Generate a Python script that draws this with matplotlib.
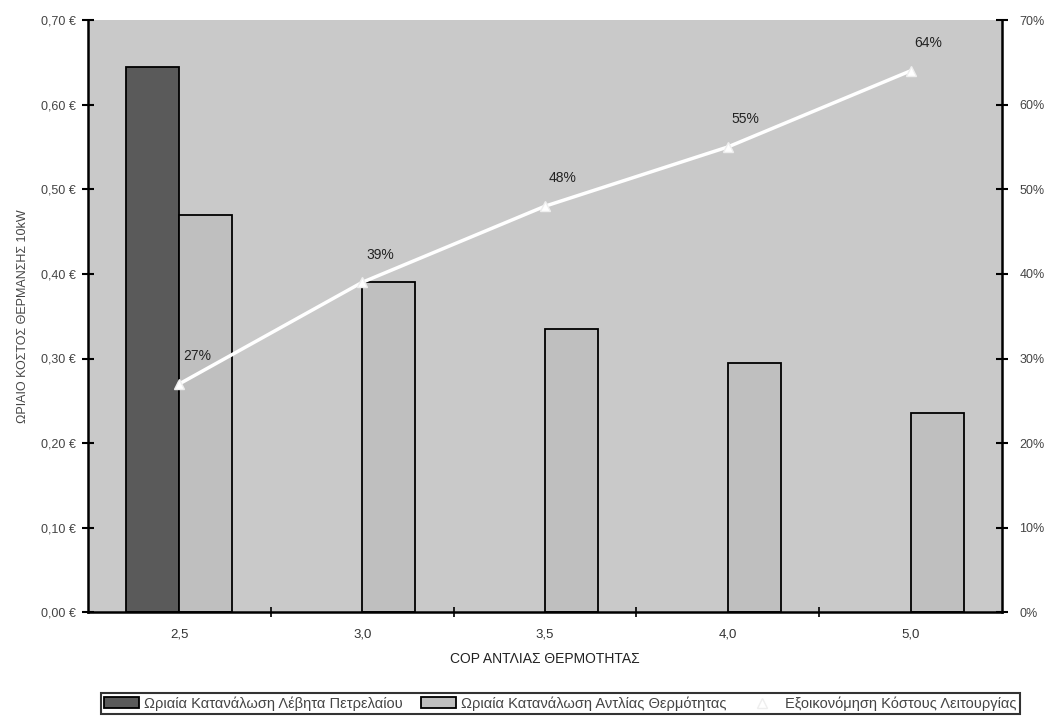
import numpy as np
import matplotlib
matplotlib.use("Agg")
import matplotlib.pyplot as plt
from matplotlib.ticker import FuncFormatter, FixedLocator, NullFormatter

plt.rcParams['font.family'] = ['Liberation Sans Narrow', 'Liberation Sans', 'DejaVu Sans']

# data
cop = ["2,5", "3,0", "3,5", "4,0", "5,0"]
boiler_cost = [0.645, np.nan, np.nan, np.nan, np.nan]   # ωριαία κατανάλωση λέβητα
heatpump_cost = [0.47, 0.39, 0.335, 0.295, 0.235]       # ωριαία κατανάλωση αντλίας
savings = [27, 39, 48, 55, 64]                           # εξοικονόμηση %

fig = plt.figure(figsize=(10.47, 7.17), dpi=100)
fig.subplots_adjust(left=0.084, right=0.957, top=0.972, bottom=0.146)
ax = fig.add_subplot(111)
ax.set_facecolor('#c9c9c9')

x = np.arange(len(cop))
w = 0.29
ax.bar(x - w / 2, boiler_cost, w, color='#5a5a5a', edgecolor='black', linewidth=1.3,
       label='Ωριαία Κατανάλωση Λέβητα Πετρελαίου', zorder=2)
ax.bar(x + w / 2, heatpump_cost, w, color='#bfbfbf', edgecolor='black', linewidth=1.3,
       label='Ωριαία Κατανάλωση Αντλίας Θερμότητας', zorder=2)

ax.set_xlim(-0.5, len(cop) - 0.5)
ax.set_ylim(0, 0.70)
ax.set_yticks(np.arange(0, 0.701, 0.1))
ax.yaxis.set_major_formatter(FuncFormatter(lambda v, p: f"{v:.2f}".replace('.', ',') + " €"))

# category axis: ticks between categories, labels at centres
ax.xaxis.set_major_locator(FixedLocator(x[:-1] + 0.5))
ax.xaxis.set_major_formatter(NullFormatter())
ax.xaxis.set_minor_locator(FixedLocator(x))
ax.xaxis.set_minor_formatter(FuncFormatter(lambda v, p: cop[int(round(v))]))
ax.tick_params(axis='x', which='major', direction='inout', length=7, width=1.2)
ax.tick_params(axis='x', which='minor', length=0, pad=12, labelsize=9.5, labelcolor='#333333')
ax.tick_params(axis='y', direction='inout', length=9, width=1.5, pad=4,
               labelsize=9, labelcolor='#444444')

ax.set_xlabel('COP ΑΝΤΛΙΑΣ ΘΕΡΜΟΤΗΤΑΣ', fontsize=10, color='#222222', labelpad=8)
ax.set_ylabel('ΩΡΙΑΙΟ ΚΟΣΤΟΣ ΘΕΡΜΑΝΣΗΣ 10kW', fontsize=9, color='#444444', labelpad=9)

for s in ax.spines.values():
    s.set_linewidth(1.8)
ax.spines['top'].set_visible(False)
ax.spines['right'].set_visible(False)

ax2 = ax.twinx()
line, = ax2.plot(x, savings, color='white', linewidth=2.5, marker='^', markersize=7,
                 markeredgecolor='#eeeeee', label='Εξοικονόμηση Κόστους Λειτουργίας', zorder=3)
ax2.set_ylim(0, 70)
ax2.set_yticks(np.arange(0, 71, 10))
ax2.yaxis.set_major_formatter(FuncFormatter(lambda v, p: f"{v:.0f}%"))
ax2.tick_params(axis='y', direction='inout', length=9, width=1.5, pad=8,
                labelsize=9, labelcolor='#444444')
ax2.spines['right'].set_linewidth(1.8)
ax2.spines['top'].set_visible(False)
ax2.spines['left'].set_visible(False)
ax2.spines['bottom'].set_visible(False)

for xi, v in zip(x, savings):
    ax2.annotate(f"{v}%", (xi, v), textcoords='offset points', xytext=(13, 20),
                 ha='center', va='center', fontsize=10, color='#222222')

handles = ax.get_legend_handles_labels()[0] + [line]
labels = [h.get_label() for h in handles]
leg = fig.legend(handles, labels, loc='center', bbox_to_anchor=(0.535, 0.019), ncol=3,
                 fontsize=10.5, frameon=True, fancybox=False, borderpad=0.2,
                 handlelength=2.4, handletextpad=0.4, columnspacing=1.2, labelcolor='#444444')
leg.get_frame().set_edgecolor('black')
leg.get_frame().set_linewidth(1.5)

fig.savefig('out.png', dpi=100, facecolor='white')
